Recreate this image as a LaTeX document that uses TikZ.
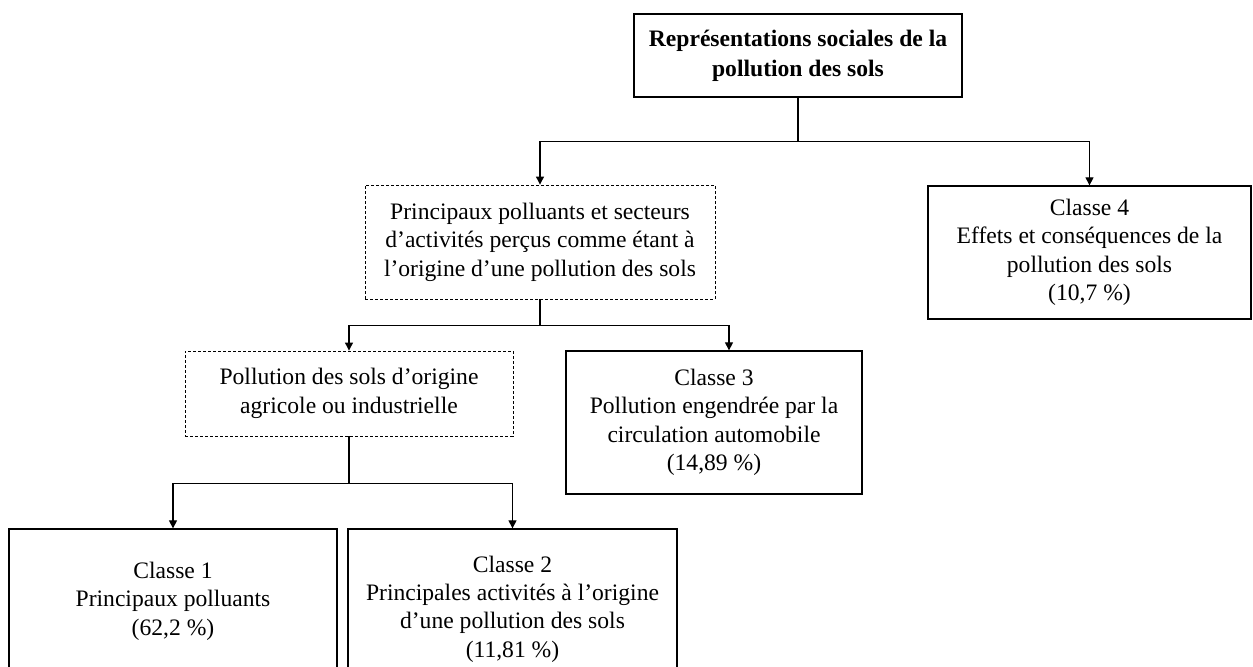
\documentclass[tikz,border=0pt]{standalone}
\usepackage{fontspec}
\setmainfont{Liberation Serif}
\usetikzlibrary{arrows.meta}
\begin{document}
\begin{tikzpicture}[x=.5pt,y=-.5pt,
                    box/.style={draw,line width=.65pt,align=center,inner sep=0pt,
                                font=\fontsize{11.8}{14.2}\selectfont},
                    dbox/.style={box,line width=.45pt,dash pattern=on 1.5pt off 1pt},
                    link/.style={line width=.55pt},
                    arr/.style={link,-{Triangle[length=4pt,width=4pt]}}]
 \useasboundingbox (0,0) rectangle (1253,666);
 % boxes
 \node[box,minimum width=164pt,minimum height=41.5pt,
       font=\bfseries\fontsize{11.8}{15}\selectfont] (root) at (798,55.5)
      {Représentations sociales de la\\pollution des sols};
 \node[dbox,minimum width=175pt,minimum height=57pt] (secA) at (540,242)
      {Principaux polluants et secteurs\\d’activités perçus comme étant à\\l’origine d’une pollution des sols};
 \node[box,minimum width=161.5pt,minimum height=66.5pt] (c4) at (1089.5,252.5)
      {Classe 4\\Effets et conséquences de la\\pollution des sols\\(10,7~\%)};
 \node[dbox,minimum width=164pt,minimum height=42.5pt] (secB) at (349,393.5)
      {Pollution des sols d’origine\\agricole ou industrielle};
 \node[box,minimum width=148pt,minimum height=71.5pt] (c3) at (714,422.5)
      {Classe 3\\Pollution engendrée par la\\circulation automobile\\(14,89~\%)};
 \node[box,minimum width=164pt,minimum height=72pt] (c1) at (173,601)
      {Classe 1\\Principaux polluants\\(62,2~\%)};
 \node[box,minimum width=164.5pt,minimum height=80pt] (c2) at (512.5,609)
      {Classe 2\\Principales activités à l’origine\\d’une pollution des sols\\(11,81~\%)};
 % connectors
 \draw[link] (root.south) -- ++(0,44) coordinate (j1);
 \draw[arr] (j1) -| (secA.north);
 \draw[arr] (j1) -| (c4.north);
 \draw[link] (secA.south) -- ++(0,26) coordinate (j2);
 \draw[arr] (j2) -| (secB.north);
 \draw[arr] (j2) -| ([xshift=7.5pt]c3.north);
 \draw[link] (secB.south) -- ++(0,47) coordinate (j3);
 \draw[arr] (j3) -| (c1.north);
 \draw[arr] (j3) -| (c2.north);
\end{tikzpicture}
\end{document}
